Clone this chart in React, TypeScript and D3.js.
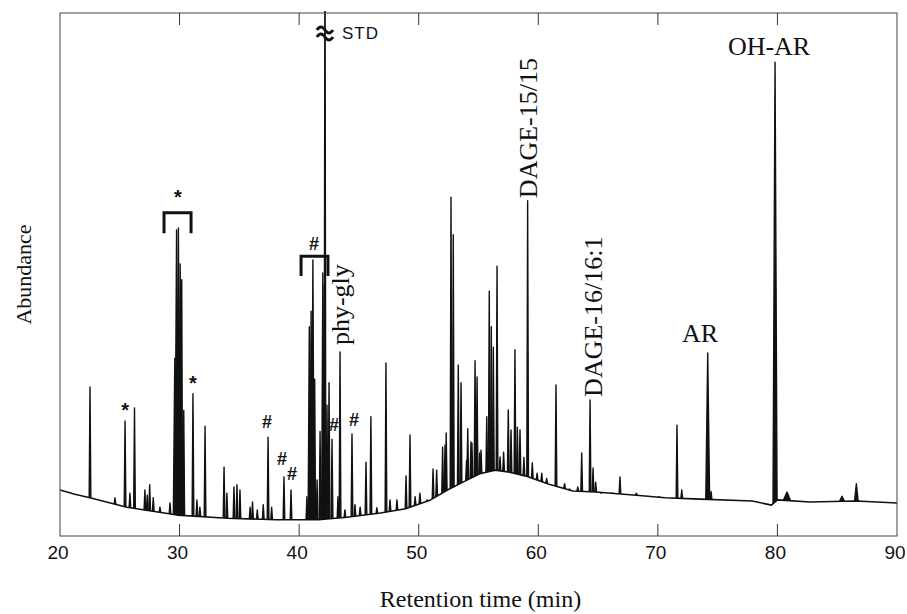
import * as d3 from 'd3';

// baseline (time in min, abundance in % of full scale)
const BASE_T = [20, 21.25, 22.5, 25.6, 29.8, 34.0, 38.1, 41.6, 44.0, 46.8, 48.9, 51.0, 52.4, 53.7, 55.1, 56.4, 57.6, 58.9, 60.9, 62.9, 64.8, 68.2, 70.6, 73.0, 77.9, 79.5, 80.0, 82.7, 86.6, 90];
const BASE_V = [8.8, 8.0, 7.3, 5.5, 4.0, 3.4, 3.1, 3.1, 3.6, 4.4, 5.2, 6.9, 8.8, 10.3, 11.9, 12.6, 12.2, 11.5, 9.9, 8.6, 8.4, 7.8, 7.3, 7.1, 6.7, 5.9, 6.9, 6.5, 6.7, 6.3];

// peaks: [retention time, apex abundance, half width in min (optional)]
const PEAKS: [number, number, number?][] = [
  [22.51, 28.5], [24.6, 7.3], [25.44, 22.0], [25.85, 8.2], [26.23, 24.5],
  [27.1, 8.8], [27.3, 7.8], [27.5, 9.8], [27.8, 7.3], [28.36, 5.5], [29.2, 6.3],
  [29.6, 34.0, 0.12], [29.75, 58.5, 0.14], [29.9, 58.9, 0.14], [30.05, 52.0, 0.12], [30.18, 49.0], [30.35, 24.0],
  [31.12, 27.2], [31.45, 6.9], [31.7, 5.5], [32.13, 21.0], [33.72, 13.2], [33.96, 8.2],
  [34.55, 9.4], [34.8, 9.8], [35.05, 8.8], [35.9, 5.5], [36.1, 6.5], [36.5, 5.0],
  [37.0, 6.0], [37.4, 18.9], [37.7, 5.5], [38.73, 11.3], [39.32, 8.8], [40.65, 7.5],
  [40.85, 40.0, 0.1], [41.0, 43.0, 0.1], [41.15, 52.8, 0.1], [41.3, 30.0], [41.5, 10.7], [41.75, 20.0],
  [41.98, 50.3, 0.1], [42.1, 48.0], [42.16, 120], [42.33, 25.0], [42.5, 29.3], [42.75, 18.5],
  [43.25, 7.5], [43.42, 35.2], [43.83, 5.0], [44.42, 19.5], [44.67, 6.0], [45.1, 5.5],
  [45.59, 14.1], [46.0, 22.8], [46.5, 5.4], [47.26, 33.1], [47.6, 6.9], [48.18, 6.9],
  [48.94, 11.5], [49.27, 19.3], [49.7, 7.5], [50.1, 8.2], [50.7, 6.9], [51.2, 12.8],
  [51.5, 12.6], [52.0, 17.0], [52.2, 17.4], [52.3, 19.7], [52.7, 64.8], [52.89, 57.6],
  [53.31, 32.7], [53.54, 29.3], [54.0, 14.5], [54.1, 20.5], [54.37, 18.0], [54.45, 17.8],
  [54.71, 33.5], [54.88, 30.4], [55.1, 15.9], [55.21, 16.4], [55.69, 22.8], [55.9, 46.8],
  [56.07, 40.0], [56.24, 36.1], [56.55, 51.6], [56.8, 15.1], [57.1, 16.0], [57.49, 24.1],
  [57.72, 20.3], [58.05, 35.6], [58.25, 20.8], [58.47, 20.3], [58.8, 15.0], [59.11, 64.1],
  [59.5, 14.0], [59.9, 12.0], [60.29, 12.0], [60.7, 11.0], [61.48, 28.9], [62.2, 10.0],
  [62.6, 9.0], [63.3, 9.4], [63.63, 15.9], [64.33, 26.0], [64.58, 13.0], [64.8, 10.3],
  [65.25, 8.2], [66.2, 8.2], [66.83, 11.3], [68.2, 8.2], [70.1, 7.5], [71.6, 21.2],
  [72.0, 8.8], [74.17, 35.0, 0.16], [74.45, 8.5], [79.8, 90.6, 0.17], [80.8, 8.4, 0.3],
  [85.4, 7.6, 0.2], [86.6, 10.0, 0.15],
];

const X_TICKS = [20, 30, 40, 50, 60, 70, 80, 90];
const INNER_TICKS = [30, 40, 50, 60, 70, 80];

// peak markers: [symbol, time, abundance]
const MARKS: [string, number, number][] = [
  ['*', 29.87, 63.4], ['*', 25.44, 22.8], ['*', 31.12, 28.0],
  ['#', 37.31, 20.7], ['#', 38.57, 13.6], ['#', 39.4, 10.7],
  ['#', 41.24, 54.7], ['#', 42.92, 20.1], ['#', 44.59, 21.0],
];

// brackets: [t start, t end, top, bottom]
const BRACKETS: [number, number, number, number][] = [
  [28.7, 30.96, 61.8, 57.9],
  [40.16, 42.41, 53.5, 49.7],
];

// compound names: [label, time, abundance, vertical]
const NAMES: [string, number, number, boolean][] = [
  ['OH-AR', 79.3, 92.0, false],
  ['AR', 73.53, 37.1, false],
  ['DAGE-15/15', 59.89, 64.6, true],
  ['DAGE-16/16:1', 65.33, 26.6, true],
  ['phy-gly', 44.17, 36.5, true],
];

const W = 907;
const H = 614;
const left = 60, right = 897, top = 13, bottom = 536;
const serif = '"Liberation Serif", "Times New Roman", serif';
const sans = '"Liberation Sans", Arial, sans-serif';

export default function App() {
  const x = d3.scaleLinear().domain([20, 90]).range([left, right]);
  const y = d3.scaleLinear().domain([0, 100]).range([bottom, top]);
  const base = d3.scaleLinear().domain(BASE_T).range(BASE_V).clamp(true);

  const baseLine = d3.line<number>()
    .x((t) => x(t))
    .y((_, i) => y(BASE_V[i]));

  const spike = d3.line<[number, number]>()
    .x((d) => x(d[0]))
    .y((d) => y(d[1]));

  const stdX = x(42.16);

  return (
    <svg width={W} height={H} style={{ position: 'absolute', left: 0, top: 0, background: '#fff' }}>
      <defs>
        <clipPath id="plot">
          <rect x={left} y={top - 2} width={right - left} height={bottom - top + 2} />
        </clipPath>
      </defs>

      <g clipPath="url(#plot)">
        <path d={baseLine(BASE_T) || ''} fill="none" stroke="#111" strokeWidth={1.6} strokeLinejoin="round" />
        {PEAKS.map(([t, v, w = 0.07], i) => (
          <path
            key={i}
            d={spike([[t - w, base(t - w)], [t, v], [t + w, base(t + w)]]) || ''}
            fill="#111"
            stroke="#111"
            strokeWidth={1.4}
            strokeLinejoin="round"
          />
        ))}
      </g>

      {/* frame */}
      <rect x={left} y={top} width={right - left} height={bottom - top} fill="none" stroke="#444" strokeWidth={1} />
      {INNER_TICKS.map((t) => (
        <g key={t} stroke="#333" strokeWidth={1}>
          <line x1={x(t)} x2={x(t)} y1={bottom} y2={bottom - 12} />
          <line x1={x(t)} x2={x(t)} y1={top} y2={top + 12} />
        </g>
      ))}
      {X_TICKS.map((t) => (
        <text key={t} x={x(t) - 2} y={559} textAnchor="middle" fontFamily={sans} fontSize={19} fill="#111">
          {t}
        </text>
      ))}

      <text x={(left + right) / 2 + 2} y={607} textAnchor="middle" fontFamily={serif} fontSize={24} fill="#111">
        Retention time (min)
      </text>
      <text transform={`translate(31,${(top + bottom) / 2}) rotate(-90)`} textAnchor="middle" fontFamily={serif} fontSize={22} fill="#111">
        Abundance
      </text>

      {/* off-scale standard */}
      <path
        d={`M${stdX - 8},${30} q4,-6 8,0 t8,0 M${stdX - 8},${37} q4,-6 8,0 t8,0`}
        fill="none"
        stroke="#111"
        strokeWidth={3}
      />
      <text x={x(43.58)} y={y(95.0)} fontFamily={sans} fontSize={17} letterSpacing={1} fill="#111">STD</text>

      {BRACKETS.map(([t0, t1, v0, v1], i) => (
        <path
          key={i}
          d={`M${x(t0)},${y(v1)}V${y(v0)}H${x(t1)}V${y(v1)}`}
          fill="none"
          stroke="#111"
          strokeWidth={3}
        />
      ))}

      {MARKS.map(([s, t, v], i) => (
        <text key={i} x={x(t)} y={y(v)} textAnchor="middle" fontFamily={sans} fontWeight="bold" fontSize={s === '*' ? 20 : 18} fill="#111">
          {s}
        </text>
      ))}

      {NAMES.map(([label, t, v, vertical]) =>
        vertical ? (
          <text key={label} transform={`translate(${x(t)},${y(v)}) rotate(-90)`} fontFamily={serif} fontSize={26} fill="#111">
            {label}
          </text>
        ) : (
          <text key={label} x={x(t)} y={y(v)} textAnchor="middle" fontFamily={serif} fontSize={26} fill="#111">
            {label}
          </text>
        )
      )}
    </svg>
  );
}
